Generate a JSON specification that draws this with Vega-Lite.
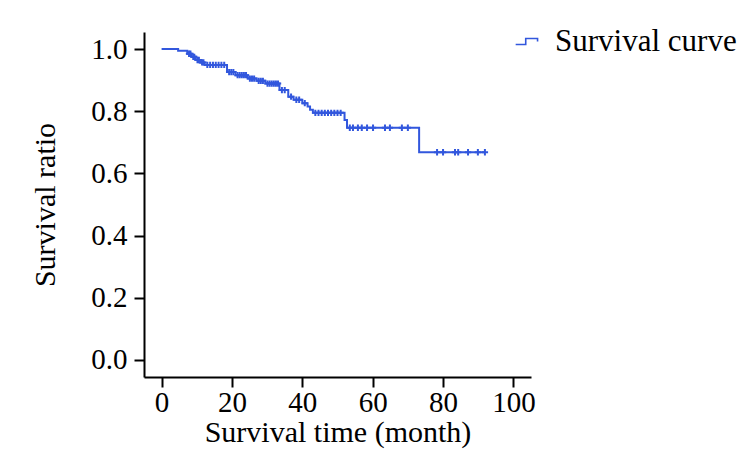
{
  "$schema": "https://vega.github.io/schema/vega-lite/v6.json",
  "width": 387,
  "height": 345,
  "autosize": {"type": "none"},
  "padding": {"left": 144, "top": 32, "right": 219, "bottom": 89},
  "background": "white",
  "config": {
    "view": {"stroke": null},
    "font": "Liberation Serif",
    "axis": {
      "grid": false,
      "domainColor": "black",
      "domainWidth": 2,
      "tickColor": "black",
      "tickWidth": 2,
      "tickSize": 10,
      "labelFont": "Liberation Serif",
      "labelFontSize": 29,
      "labelColor": "black",
      "titleFont": "Liberation Serif",
      "titleFontSize": 30,
      "titleFontWeight": "normal",
      "titleColor": "black"
    },
    "legend": {
      "labelFont": "Liberation Serif",
      "labelFontSize": 31,
      "labelColor": "black",
      "labelLimit": 0
    }
  },
  "data": {
    "values": [
      {"t": 0, "s": 1.0, "c": 0},
      {"t": 4.7, "s": 0.995, "c": 0},
      {"t": 7.3, "s": 0.985, "c": 0},
      {"t": 7.8, "s": 0.985, "c": 1},
      {"t": 8.2, "s": 0.985, "c": 1},
      {"t": 8.5, "s": 0.975, "c": 0},
      {"t": 9.0, "s": 0.975, "c": 1},
      {"t": 9.3, "s": 0.975, "c": 1},
      {"t": 9.7, "s": 0.965, "c": 0},
      {"t": 10.2, "s": 0.965, "c": 1},
      {"t": 10.6, "s": 0.965, "c": 1},
      {"t": 11.0, "s": 0.957, "c": 0},
      {"t": 11.5, "s": 0.957, "c": 1},
      {"t": 11.9, "s": 0.957, "c": 1},
      {"t": 12.2, "s": 0.949, "c": 0},
      {"t": 13.0, "s": 0.949, "c": 1},
      {"t": 13.8, "s": 0.949, "c": 1},
      {"t": 14.6, "s": 0.949, "c": 1},
      {"t": 15.4, "s": 0.949, "c": 1},
      {"t": 16.2, "s": 0.949, "c": 1},
      {"t": 17.0, "s": 0.949, "c": 1},
      {"t": 17.8, "s": 0.949, "c": 1},
      {"t": 18.6, "s": 0.926, "c": 0},
      {"t": 19.2, "s": 0.926, "c": 1},
      {"t": 19.8, "s": 0.926, "c": 1},
      {"t": 20.4, "s": 0.926, "c": 1},
      {"t": 21.0, "s": 0.916, "c": 0},
      {"t": 21.6, "s": 0.916, "c": 1},
      {"t": 22.2, "s": 0.916, "c": 1},
      {"t": 22.8, "s": 0.916, "c": 1},
      {"t": 23.4, "s": 0.916, "c": 1},
      {"t": 24.0, "s": 0.916, "c": 1},
      {"t": 24.5, "s": 0.905, "c": 0},
      {"t": 25.1, "s": 0.905, "c": 1},
      {"t": 25.7, "s": 0.905, "c": 1},
      {"t": 26.3, "s": 0.905, "c": 1},
      {"t": 27.0, "s": 0.898, "c": 0},
      {"t": 27.6, "s": 0.898, "c": 1},
      {"t": 28.2, "s": 0.898, "c": 1},
      {"t": 28.8, "s": 0.898, "c": 1},
      {"t": 29.5, "s": 0.889, "c": 0},
      {"t": 30.1, "s": 0.889, "c": 1},
      {"t": 30.7, "s": 0.889, "c": 1},
      {"t": 31.3, "s": 0.889, "c": 1},
      {"t": 31.9, "s": 0.889, "c": 1},
      {"t": 32.5, "s": 0.889, "c": 1},
      {"t": 33.1, "s": 0.889, "c": 1},
      {"t": 33.5, "s": 0.868, "c": 0},
      {"t": 34.2, "s": 0.868, "c": 1},
      {"t": 35.0, "s": 0.868, "c": 1},
      {"t": 36.0, "s": 0.847, "c": 0},
      {"t": 36.8, "s": 0.847, "c": 1},
      {"t": 37.5, "s": 0.837, "c": 0},
      {"t": 38.3, "s": 0.837, "c": 1},
      {"t": 39.1, "s": 0.837, "c": 1},
      {"t": 40.0, "s": 0.826, "c": 0},
      {"t": 40.7, "s": 0.826, "c": 1},
      {"t": 41.5, "s": 0.815, "c": 0},
      {"t": 42.2, "s": 0.805, "c": 0},
      {"t": 43.0, "s": 0.795, "c": 0},
      {"t": 43.7, "s": 0.795, "c": 1},
      {"t": 44.6, "s": 0.795, "c": 1},
      {"t": 45.5, "s": 0.795, "c": 1},
      {"t": 46.4, "s": 0.795, "c": 1},
      {"t": 47.3, "s": 0.795, "c": 1},
      {"t": 48.2, "s": 0.795, "c": 1},
      {"t": 49.1, "s": 0.795, "c": 1},
      {"t": 50.0, "s": 0.795, "c": 1},
      {"t": 50.9, "s": 0.795, "c": 1},
      {"t": 52.0, "s": 0.772, "c": 0},
      {"t": 52.7, "s": 0.747, "c": 0},
      {"t": 53.5, "s": 0.747, "c": 1},
      {"t": 54.4, "s": 0.747, "c": 1},
      {"t": 55.8, "s": 0.747, "c": 1},
      {"t": 56.9, "s": 0.747, "c": 1},
      {"t": 58.4, "s": 0.747, "c": 1},
      {"t": 60.1, "s": 0.747, "c": 1},
      {"t": 63.5, "s": 0.747, "c": 1},
      {"t": 64.9, "s": 0.747, "c": 1},
      {"t": 68.3, "s": 0.747, "c": 1},
      {"t": 70.0, "s": 0.747, "c": 1},
      {"t": 73.2, "s": 0.668, "c": 0},
      {"t": 78.3, "s": 0.668, "c": 1},
      {"t": 80.0, "s": 0.668, "c": 1},
      {"t": 83.4, "s": 0.668, "c": 1},
      {"t": 84.3, "s": 0.668, "c": 1},
      {"t": 87.1, "s": 0.668, "c": 1},
      {"t": 89.9, "s": 0.668, "c": 1},
      {"t": 91.9, "s": 0.668, "c": 1}
    ]
  },
  "encoding": {
    "x": {
      "field": "t",
      "type": "quantitative",
      "scale": {"domain": [-5, 105], "nice": false, "zero": false},
      "axis": {"values": [0, 20, 40, 60, 80, 100], "title": "Survival time (month)", "labelPadding": 1, "titlePadding": 0}
    },
    "y": {
      "field": "s",
      "type": "quantitative",
      "scale": {"domain": [-0.055, 1.055], "nice": false, "zero": false},
      "axis": {"values": [0, 0.2, 0.4, 0.6, 0.8, 1.0], "format": ".1f", "title": "Survival ratio", "labelPadding": 7, "titlePadding": 30}
    }
  },
  "layer": [
    {
      "mark": {"type": "line", "interpolate": "step-after", "strokeWidth": 2},
      "encoding": {
        "color": {
          "datum": "Survival curve",
          "type": "nominal",
          "scale": {"range": ["#3257dd"]},
          "legend": {
            "title": null,
            "orient": "none",
            "legendX": 368,
            "legendY": -6,
            "symbolType": "M-1,0.25H-0.15V-0.25H0.85V0",
            "symbolSize": 560,
            "symbolStrokeWidth": 1.6,
            "labelOffset": 12,
            "padding": 0
          }
        }
      }
    },
    {
      "transform": [{"filter": "datum.c == 1"}],
      "mark": {"type": "point", "shape": "M-1,0H1M0,-1V1", "filled": false, "size": 40, "strokeWidth": 2, "color": "#3257dd", "opacity": 1}
    }
  ]
}
